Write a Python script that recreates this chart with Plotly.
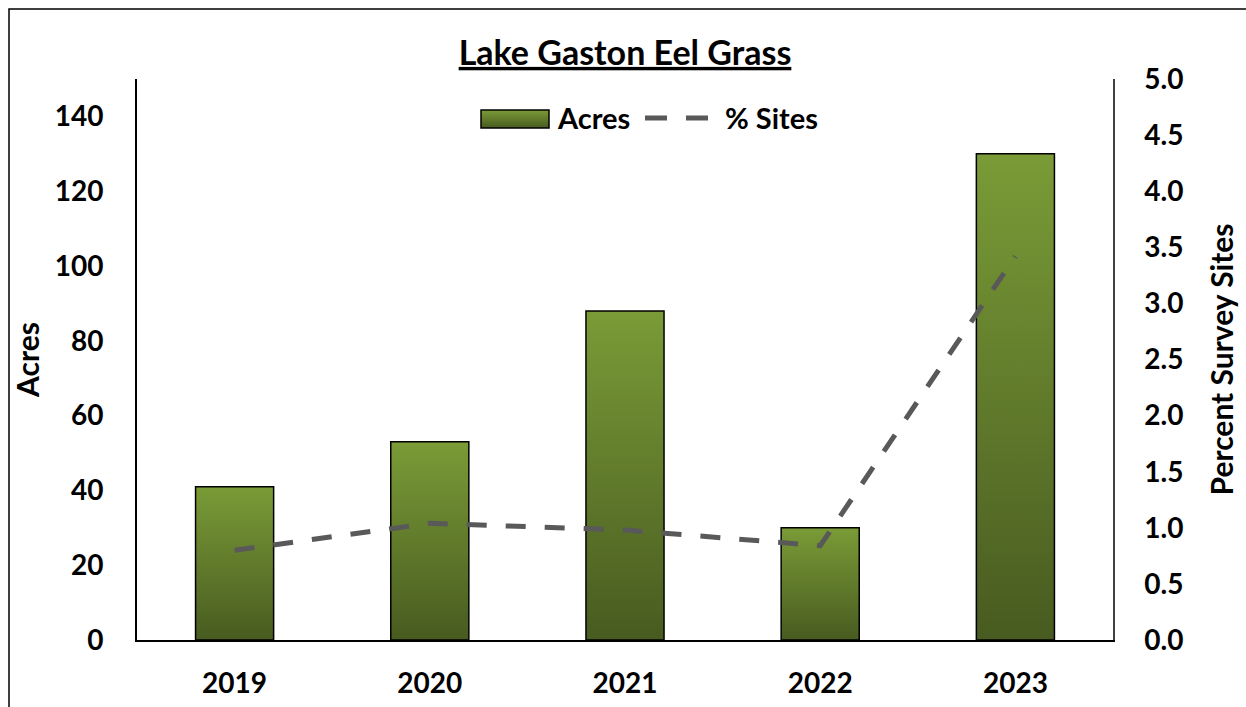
import base64
import plotly.graph_objects as go

# Lake Gaston eel grass survey data
years = ["2019", "2020", "2021", "2022", "2023"]
acres = [41, 53, 88, 30, 130]
pct_sites = [0.80, 1.04, 0.98, 0.84, 3.42]

left_ticks = [0, 20, 40, 60, 80, 100, 120, 140]
right_ticks = [0, 0.5, 1.0, 1.5, 2.0, 2.5, 3.0, 3.5, 4.0, 4.5, 5.0]

FONT = "Lato"
BAR_W = 0.4
LINE_COLOR = "#595959"
xs = list(range(len(years)))

# plot area in pixels, used to place the hand-drawn legend in paper units
L, R, T, B = 137, 133, 79, 67
PW, PH = 1246 - L - R, 707 - T - B


def px_x(p):
    return (p - L) / PW


def px_y(p):
    return (707 - B - p) / PH


# vertical green gradient used as bar fill
grad_svg = (
    '<svg xmlns="http://www.w3.org/2000/svg" width="10" height="100" preserveAspectRatio="none">'
    '<defs><linearGradient id="g" x1="0" y1="0" x2="0" y2="1">'
    '<stop offset="0" stop-color="#7a9b37"/><stop offset="1" stop-color="#485b20"/>'
    '</linearGradient></defs><rect width="10" height="100" fill="url(#g)"/></svg>'
)
grad_uri = "data:image/svg+xml;base64," + base64.b64encode(grad_svg.encode()).decode()

fig = go.Figure()
fig.add_trace(go.Bar(
    x=xs, y=acres, name="Acres", width=BAR_W, showlegend=False,
    marker=dict(color="rgba(0,0,0,0)", line=dict(color="black", width=1.5)),
    yaxis="y",
))
fig.add_trace(go.Scatter(
    x=xs, y=pct_sites, name="% Sites", mode="lines", showlegend=False,
    line=dict(color=LINE_COLOR, width=5, dash="20px,19px"),
    yaxis="y2",
))

images = []
for xi, v in zip(xs, acres):
    images.append(dict(
        source=grad_uri, xref="x", yref="y", x=xi, y=v,
        sizex=BAR_W, sizey=v, xanchor="center", yanchor="top",
        sizing="stretch", layer="below", opacity=1,
    ))

# legend swatch for the bars (gradient box with outline)
images.append(dict(
    source=grad_uri, xref="paper", yref="paper", x=px_x(481), y=px_y(110),
    sizex=px_x(549) - px_x(481), sizey=px_y(110) - px_y(128),
    xanchor="left", yanchor="top", sizing="stretch", layer="above",
))

shapes = [
    dict(type="rect", xref="paper", yref="paper",
         x0=-128 / PW, x1=1.4, y0=-0.4, y1=(707 - B - 9) / PH,
         line=dict(color="black", width=1.5), fillcolor="rgba(0,0,0,0)", layer="below"),
    dict(type="rect", xref="paper", yref="paper",
         x0=px_x(481), x1=px_x(549), y0=px_y(128), y1=px_y(110),
         line=dict(color="black", width=1.5), fillcolor="rgba(0,0,0,0)", layer="above"),
    dict(type="line", xref="paper", yref="paper",
         x0=px_x(645), x1=px_x(713), y0=px_y(118), y1=px_y(118),
         line=dict(color=LINE_COLOR, width=5, dash="22px,19px")),
]

annotations = [
    dict(text="<b>Acres</b>", xref="paper", yref="paper", x=px_x(555), y=px_y(118),
         xanchor="left", yanchor="middle", showarrow=False,
         font=dict(family=FONT, size=29, color="black")),
    dict(text="<b>% Sites</b>", xref="paper", yref="paper", x=px_x(723), y=px_y(118),
         xanchor="left", yanchor="middle", showarrow=False,
         font=dict(family=FONT, size=29, color="black")),
]

fig.update_layout(
    width=1246, height=707,
    margin=dict(l=L, r=R, t=T, b=B),
    paper_bgcolor="white", plot_bgcolor="rgba(0,0,0,0)",
    font=dict(family=FONT, color="black", size=28),
    images=images, shapes=shapes, annotations=annotations,
    showlegend=False,
    xaxis=dict(
        range=[-0.5, len(years) - 0.5], tickvals=xs, ticktext=years,
        showline=True, linecolor="black", linewidth=2, ticks="",
        tickfont=dict(family=FONT, size=28, color="black", weight="bold"),
        showgrid=False, zeroline=False, ticklabelstandoff=17, automargin=False,
    ),
    yaxis=dict(
        range=[0, 150], tickvals=left_ticks, showline=True, linecolor="black",
        linewidth=2, ticks="", showgrid=False, zeroline=False, automargin=False,
        tickfont=dict(family=FONT, size=28, color="black", weight="bold"),
        ticklabelstandoff=26,
        title=dict(text="Acres", font=dict(family=FONT, size=30, color="black", weight="bold"),
                   standoff=6),
    ),
    yaxis2=dict(
        range=[0, 5], tickvals=right_ticks, tickformat=".1f", overlaying="y", side="right",
        showline=True, linecolor="#404040", linewidth=1.5, ticks="", showgrid=False,
        zeroline=False, ticklabelstandoff=24, automargin=False,
        tickfont=dict(family=FONT, size=28, color="black", weight="bold"),
        title=dict(text="Percent Survey Sites",
                   font=dict(family=FONT, size=30, color="black", weight="bold"), standoff=30),
    ),
    title=dict(
        text="<u>Lake Gaston Eel Grass</u>", x=0.5, xref="paper", xanchor="center",
        y=1.0 - 53 / 707, yref="container", yanchor="middle",
        font=dict(family=FONT, size=34, color="black", weight="bold"),
    ),
)

fig.write_html("out.html")
